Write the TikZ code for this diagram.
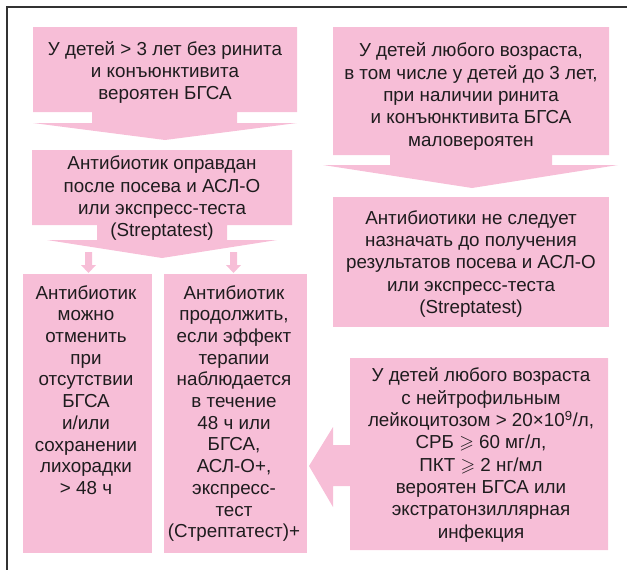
\documentclass[tikz,border=0pt]{standalone}
\usepackage{amssymb}
\usepackage{fontspec}
\setmainfont{Liberation Sans}
\definecolor{pinkf}{RGB}{247,190,215}
\definecolor{txtc}{RGB}{30,28,30}
\definecolor{framec}{RGB}{50,50,50}
\begin{document}
\begin{tikzpicture}[x=1pt,y=-1pt,
  txt/.style={align=center, inner sep=0pt, text=txtc, font=\fontsize{18.8}{22.3}\selectfont},
  tallt/.style={txt, font=\fontsize{18.8}{21.7}\selectfont},
  blk/.style={fill=pinkf}]
\useasboundingbox (0,0) rectangle (627,570);
\draw[framec, line width=1.5pt] (627,7) -- (7,7) -- (7,570);
% top-left box with arrow
\fill[blk] (33,27) -- (297,27) -- (297,112) -- (237,112) -- (237,123) -- (297,123) -- (165,140) -- (33,123) -- (92,123) -- (92,112) -- (33,112) -- cycle;
% second left box with arrow
\fill[blk] (32,150) -- (292,150) -- (292,225) -- (227,225) -- (227,240) -- (277,240) -- (162,258) -- (47,240) -- (97,240) -- (97,225) -- (32,225) -- cycle;
% small arrows
\fill[blk] (85,252) -- (92,252) -- (92,265) -- (96,265) -- (88.5,273) -- (81,265) -- (85,265) -- cycle;
\fill[blk] (230,252) -- (237,252) -- (237,265) -- (241,265) -- (233.5,273) -- (226,265) -- (230,265) -- cycle;
% bottom-left boxes
\fill[blk] (23,274) rectangle (152,553);
\fill[blk] (164,274) rectangle (307,553);
% top-right box with arrow
\fill[blk] (333,27) -- (609,27) -- (609,155) -- (552,155) -- (552,165) -- (618,165) -- (472,188) -- (323,165) -- (390,165) -- (390,155) -- (333,155) -- cycle;
\fill[blk] (333,197) rectangle (609,327);
% bottom-right box with left arrow
\fill[blk] (350,358) -- (608,358) -- (608,550) -- (350,550) -- (350,486) -- (333,486) -- (333,507) -- (309,466) -- (333,427) -- (333,445) -- (350,445) -- cycle;

\node[txt] (t1) at (165,72.5) {У детей > 3 лет без ринита\\и конъюнктивита\\вероятен БГСА};
\node[txt] (t2) at (162,198.5) {Антибиотик оправдан\\после посева и АСЛ-О\\или экспресс-теста\\(Streptatest)};
\node[tallt] (t3) at (86,390) {Антибиотик\\можно\\отменить\\при\\отсутствии\\БГСА\\и/или\\сохранении\\лихорадки\\> 48 ч};
\node[tallt] (t4) at (234,413.5) {Антибиотик\\продолжить,\\если эффект\\терапии\\наблюдается\\в течение\\48 ч или\\БГСА,\\АСЛ-О+,\\экспресс-\\тест\\(Стрептатест)+};
\node[txt] (t5) at (471,96.5) {У детей любого возраста,\\в том числе у детей до 3 лет,\\при наличии ринита\\и конъюнктивита БГСА\\маловероятен};
\node[txt] (t6) at (471,264) {Антибиотики не следует\\назначать до получения\\результатов посева и АСЛ-О\\или экспресс-теста\\(Streptatest)};
\node[txt] (t7) at (481,455) {У детей любого возраста\\с нейтрофильным\\лейкоцитозом > 20×10\textsuperscript{9}/л,\\СРБ $\geqslant$ 60 мг/л,\\ПКТ $\geqslant$ 2 нг/мл\\вероятен БГСА или\\экстратонзиллярная\\инфекция};
\end{tikzpicture}
\end{document}
